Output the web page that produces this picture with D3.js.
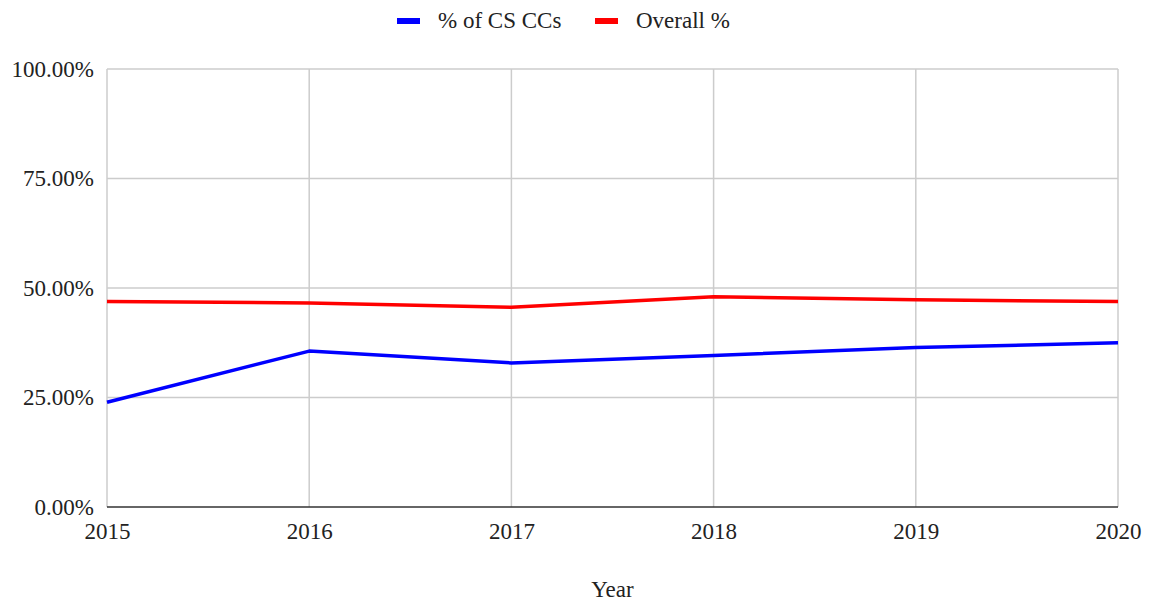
<!DOCTYPE html>
<html>
<head>
<meta charset="utf-8">
<script src="https://cdn.jsdelivr.net/npm/d3@7"></script>
<style>
  body { margin: 0; background: #fff; }
  #chart { width: 1150px; height: 601px; }
  text { font-family: "Liberation Serif", "DejaVu Serif", serif; fill: #222; }
</style>
</head>
<body>
<div id="chart"></div>
<script>
//Datos
const years = [2015, 2016, 2017, 2018, 2019, 2020];
const csCCs = [23.9, 35.6, 32.9, 34.6, 36.4, 37.5];
const overall = [46.9, 46.6, 45.6, 48.0, 47.3, 46.9];
const yTicks = [0, 25, 50, 75, 100];
const seriesNames = ['% of CS CCs', 'Overall %'];
const seriesColors = ['#0000ff', '#ff0000'];

const FONT_SIZE = 23;

//Márgenes
let margin = {top: 69, right: 32, bottom: 94, left: 107},
    width = 1150 - margin.left - margin.right,
    height = 601 - margin.top - margin.bottom;

let svg = d3.select('#chart')
    .append('svg')
      .attr('width', 1150)
      .attr('height', 601)
    .append('g')
      .attr('transform', 'translate(' + margin.left + ',' + margin.top + ')');

let x = d3.scaleLinear()
    .domain(d3.extent(years))
    .range([0, width]);

let y = d3.scaleLinear()
    .domain([0, 100])
    .range([height, 0]);

//Rejilla horizontal
svg.append('g')
    .selectAll('line')
    .data(yTicks.filter(function(d) { return d > 0; }))
    .enter()
    .append('line')
    .attr('x1', 0)
    .attr('x2', width)
    .attr('y1', function(d) { return y(d); })
    .attr('y2', function(d) { return y(d); })
    .attr('stroke', '#cccccc')
    .attr('stroke-width', 1.5);

//Rejilla vertical
svg.append('g')
    .selectAll('line')
    .data(years)
    .enter()
    .append('line')
    .attr('x1', function(d) { return x(d); })
    .attr('x2', function(d) { return x(d); })
    .attr('y1', 0)
    .attr('y2', height)
    .attr('stroke', '#cccccc')
    .attr('stroke-width', 1.5);

//Eje base
svg.append('line')
    .attr('x1', 0)
    .attr('x2', width)
    .attr('y1', y(0))
    .attr('y2', y(0))
    .attr('stroke', '#333333')
    .attr('stroke-width', 1.5);

//Etiquetas eje Y
let yAxis = d3.axisLeft(y)
    .tickValues(yTicks)
    .tickSize(0)
    .tickPadding(13)
    .tickFormat(function(d) { return d.toFixed(2) + '%'; });

svg.append('g')
    .call(yAxis)
    .call(function(g) { g.select('.domain').remove(); })
    .selectAll('text')
    .attr('font-size', FONT_SIZE)
    .attr('font-family', '"Liberation Serif", serif')
    .attr('fill', '#222')
    .attr('dy', '0.32em');

//Etiquetas eje X
let xAxis = d3.axisBottom(x)
    .tickValues(years)
    .tickSize(0)
    .tickPadding(16)
    .tickFormat(d3.format('d'));

svg.append('g')
    .attr('transform', 'translate(0,' + height + ')')
    .call(xAxis)
    .call(function(g) { g.select('.domain').remove(); })
    .selectAll('text')
    .attr('font-size', FONT_SIZE)
    .attr('font-family', '"Liberation Serif", serif')
    .attr('fill', '#222');

//Título eje X
svg.append('text')
    .attr('x', width / 2)
    .attr('y', height + 90)
    .attr('text-anchor', 'middle')
    .attr('font-size', FONT_SIZE)
    .text('Year');

//Líneas
let line = d3.line()
    .x(function(d, i) { return x(years[i]); })
    .y(function(d) { return y(d); });

[csCCs, overall].forEach(function(serie, i) {
    svg.append('path')
        .datum(serie)
        .attr('fill', 'none')
        .attr('stroke', seriesColors[i])
        .attr('stroke-width', 3.5)
        .attr('stroke-linejoin', 'round')
        .attr('d', line);
});

//Leyenda
let legendX = [397 - margin.left, 595 - margin.left];
let legend = svg.append('g')
    .attr('transform', 'translate(0,' + (-margin.top) + ')');

seriesNames.forEach(function(name, i) {
    legend.append('rect')
        .attr('x', legendX[i])
        .attr('y', 18)
        .attr('width', 23)
        .attr('height', 6)
        .attr('fill', seriesColors[i]);
    legend.append('text')
        .attr('x', legendX[i] + 41)
        .attr('y', 28)
        .attr('font-size', FONT_SIZE)
        .text(name);
});
</script>
</body>
</html>
